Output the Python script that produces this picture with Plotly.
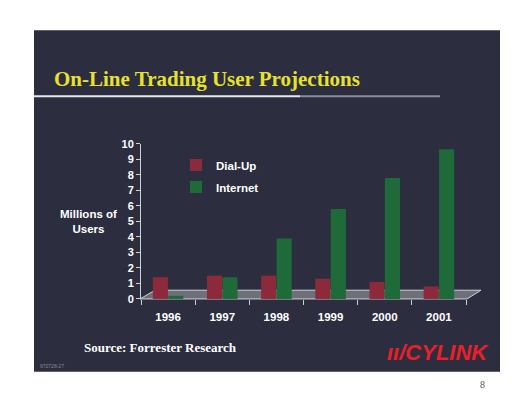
import plotly.graph_objects as go

# values (millions of users)
years = ["1996", "1997", "1998", "1999", "2000", "2001"]
dial_up = [1.4, 1.5, 1.5, 1.3, 1.1, 0.8]
internet = [0.2, 1.4, 3.9, 5.8, 7.8, 9.65]
y_ticks = list(range(0, 11))

W, H = 517, 400
SLIDE = "#2c2e3f"
RED = "#8c2a3c"
GREEN = "#1e6a38"


# pixel -> paper helpers (margins are 0, so paper == whole figure)
def px(x):
    return x / W


def py(y):
    return 1 - y / H


fig = go.Figure()
fig.add_bar(x=years, y=dial_up, name="Dial-Up", legendgroup="d",
            marker=dict(color=RED, line=dict(width=0)))
fig.add_bar(x=years, y=internet, name="Internet", legendgroup="i",
            marker=dict(color=GREEN, line=dict(width=0)))

shapes = [
    # dark slide
    dict(type="rect", xref="paper", yref="paper", x0=px(34), x1=px(500), y0=py(377), y1=py(25),
         fillcolor=SLIDE, line=dict(width=0), layer="below"),
    # rule under the title
    dict(type="line", xref="paper", yref="paper", x0=px(34), x1=px(300), y0=py(93), y1=py(93),
         line=dict(color="#e8e8ec", width=2), layer="below"),
    dict(type="line", xref="paper", yref="paper", x0=px(300), x1=px(440), y0=py(93), y1=py(93),
         line=dict(color="#8a8c96", width=2), layer="below"),
    # floor of the 3d chart
    dict(type="path", xref="paper", yref="paper",
         path=f"M {px(140)},{py(302)} L {px(467)},{py(302)} L {px(481)},{py(293)} L {px(155)},{py(293)} Z",
         fillcolor="#6e7079", line=dict(color="#d0d0d4", width=1), layer="below"),
]


def note(text, x, y, anchor, family, size, color):
    return dict(text=text, xref="paper", yref="paper", x=px(x), y=py(y), xanchor=anchor,
                yanchor="middle", showarrow=False, font=dict(family=family, size=size, color=color))


annotations = [
    note("<b>On-Line Trading User Projections</b>", 52, 75, "left", "Liberation Serif", 21, "#e6e22e"),
    note("<b>Millions of<br>Users</b>", 88, 222, "center", "Liberation Sans", 11.5, "white"),
    note("<b>Source: Forrester Research</b>", 82, 352, "left", "Liberation Serif", 13, "white"),
    note("<b><i>ıı/CYLINK</i></b>", 491, 357, "right", "Liberation Sans", 22, "#e8202a"),
    note("970728-27", 38, 371, "left", "Liberation Sans", 5, "#8a8c96"),
    note("8", 482, 390, "center", "Liberation Serif", 10, "#555555"),
]

fig.update_layout(
    width=W, height=H,
    margin=dict(l=0, r=0, t=0, b=0),
    paper_bgcolor="white",
    plot_bgcolor="rgba(0,0,0,0)",
    barmode="group",
    bargap=0.43,
    bargroupgap=0.02,
    showlegend=True,
    legend=dict(x=px(176), y=py(149), xanchor="left", yanchor="top", bgcolor="rgba(0,0,0,0)",
                font=dict(family="Liberation Sans", size=11.5, color="white", weight="bold"),
                itemwidth=30, tracegroupgap=3),
    font=dict(family="Liberation Sans", color="white"),
    shapes=shapes,
    annotations=annotations,
)
fig.update_xaxes(domain=[px(141), px(466)], type="category", range=[-0.5, 5.5],
                 showline=False, showgrid=False, ticks="outside", tickson="boundaries",
                 ticklen=5, tickcolor="#d0d0d4", ticklabelstandoff=10,
                 tickfont=dict(family="Liberation Sans", size=11.5, color="white", weight="bold"))
fig.update_yaxes(domain=[py(302), py(142)], range=[0, 10], tickvals=y_ticks,
                 showline=True, linecolor="#d0d0d4", linewidth=1, showgrid=False, zeroline=False,
                 ticks="outside", ticklen=4, tickcolor="#d0d0d4",
                 tickfont=dict(family="Liberation Sans", size=11, color="white", weight="bold"))

# the page's default 8px body margin would shift the figure
fig.write_html("out.html", config={"displayModeBar": False},
               post_script="document.body.style.margin='0';")
